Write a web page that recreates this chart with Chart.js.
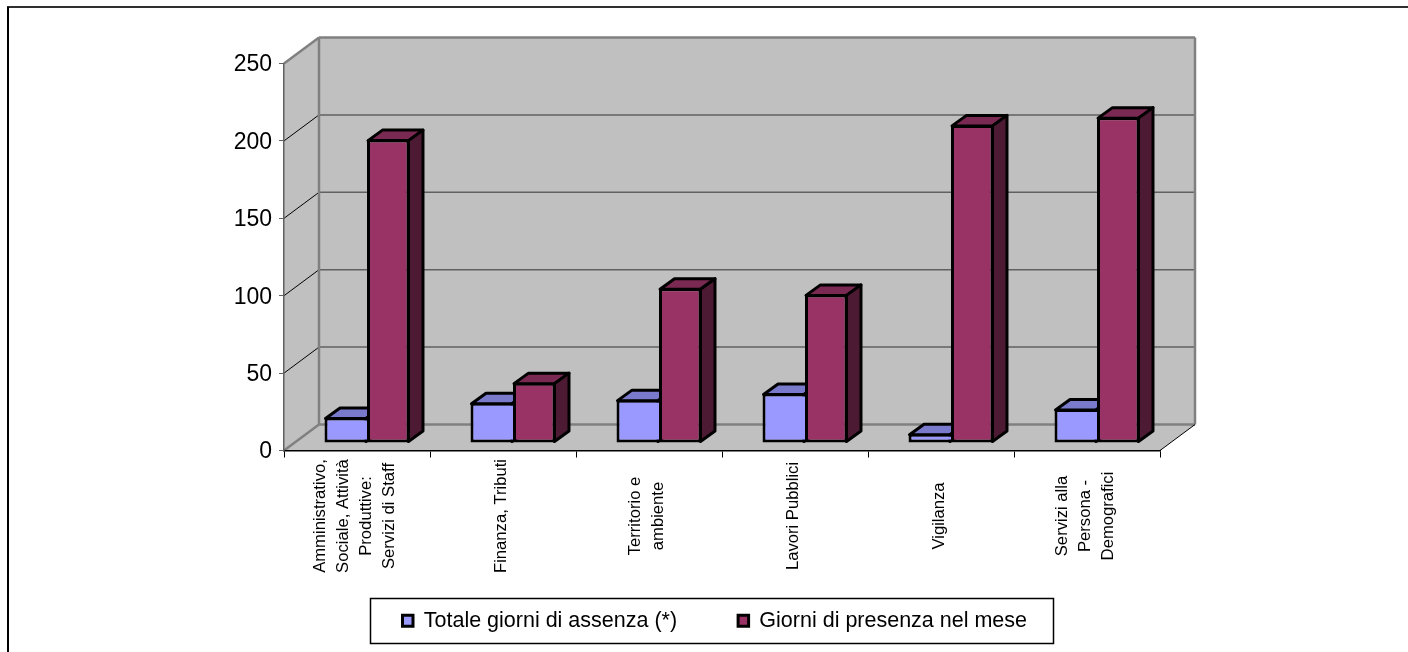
<!DOCTYPE html>
<html><head><meta charset="utf-8">
<script src="https://cdn.jsdelivr.net/npm/chart.js@4"></script>
<style>html,body{margin:0;padding:0;background:#fff}canvas{display:block}</style>
</head><body><canvas id="c" width="1408" height="652"></canvas>
<script>
const categories = [
  ["Amministrativo,","Sociale, Attività","Produttive:","Servizi di Staff"],
  ["Finanza, Tributi"],
  ["Territorio e","ambiente"],
  ["Lavori Pubblici"],
  ["Vigilanza"],
  ["Servizi alla","Persona -","Demografici"]
];
const assenzaValues = [16.5, 26, 28, 32, 6, 22];
const presenzaValues = [196, 39, 100, 96, 205.5, 210.5];
const yTicks = [0, 50, 100, 150, 200, 250];
const FONT = '"Liberation Sans", Arial, sans-serif';

const WALL = {dx: 35, dy: -26};
const BAR = {sx: 10, sy: -7.5, dx: 14.5, dy: -10.5};
const LEG = {left: 370, right: 1053, top: 598, bottom: 643, pad: 61, rowTop: 12, firstMarker: 402.5};
const faces = [
  {top: '#7a7acc', side: '#4d4d80'},
  {top: '#7a2952', side: '#4d1a33'}
];

function poly(ctx, pts, fill, stroke, lw) {
  ctx.beginPath();
  pts.forEach((p, i) => i ? ctx.lineTo(p[0], p[1]) : ctx.moveTo(p[0], p[1]));
  ctx.closePath();
  if (fill) { ctx.fillStyle = fill; ctx.fill(); }
  if (stroke) { ctx.strokeStyle = stroke; ctx.lineWidth = lw; ctx.lineJoin = 'round'; ctx.stroke(); }
}
function seg(ctx, x1, y1, x2, y2, c, lw) {
  ctx.beginPath(); ctx.moveTo(x1, y1); ctx.lineTo(x2, y2);
  ctx.strokeStyle = c; ctx.lineWidth = lw; ctx.stroke();
}
function drawFaces(chart, index) {
  const {ctx} = chart;
  const f = faces[index];
  chart.getDatasetMeta(index).data.forEach(b => {
    const {x, y, base, width} = b.getProps(['x', 'y', 'base', 'width'], true);
    const r = x + width / 2 - 1, l = x - width / 2 + 1, dx = BAR.dx, dy = BAR.dy, t = y + 1, bt = base - 1;
    poly(ctx, [[l, t], [r, t], [r + dx, t + dy], [l + dx, t + dy]], f.top, '#000', 3);
    poly(ctx, [[r, t], [r + dx, t + dy], [r + dx, bt + dy], [r, bt]], f.side, '#000', 3);
  });
}

const plugin3d = {
  id: 'plugin3d',
  afterLayout(chart) {
    const l = chart.legend;
    l.left = LEG.firstMarker - LEG.pad; l.right = chart.width;
    l.top = LEG.top + LEG.rowTop - LEG.pad;
    l.bottom = LEG.bottom;
  },
  beforeDraw(chart) {
    const {ctx, chartArea: a, scales: {y}} = chart;
    const dx = WALL.dx, dy = WALL.dy;
    ctx.save();
    ctx.fillStyle = '#fff'; ctx.fillRect(0, 0, chart.width, chart.height);
    // outer frame: top and left edges only
    seg(ctx, 7, 7, chart.width, 7, '#303030', 2);
    seg(ctx, 8, 7, 8, chart.height, '#000', 2);
    // walls and floor
    const gray = '#808080';
    poly(ctx, [[a.left, a.bottom], [a.left + dx, a.bottom + dy], [a.left + dx, a.top + dy], [a.left, a.top]], '#c0c0c0');
    poly(ctx, [[a.left + dx, a.bottom + dy], [a.right + dx, a.bottom + dy], [a.right + dx, a.top + dy], [a.left + dx, a.top + dy]], '#c0c0c0');
    poly(ctx, [[a.left, a.bottom], [a.right, a.bottom], [a.right + dx, a.bottom + dy], [a.left + dx, a.bottom + dy]], '#c0c0c0');
    // gridlines
    y.ticks.forEach(t => {
      if (t.value === 0 || t.value === 250) return;
      const p = y.getPixelForValue(t.value);
      seg(ctx, a.left, p, a.left + dx, p + dy, '#000', 1);
      seg(ctx, a.left + dx, p + dy, a.right + dx, p + dy, '#606060', 1.5);
    });
    // edges
    ctx.lineCap = 'butt';
    seg(ctx, a.left, a.top, a.left + dx, a.top + dy, gray, 2.5);
    seg(ctx, a.left + dx, a.top + dy, a.right + dx, a.top + dy, gray, 2.5);
    seg(ctx, a.left + dx, a.top + dy, a.left + dx, a.bottom + dy, gray, 2.5);
    seg(ctx, a.right + dx, a.top + dy, a.right + dx, a.bottom + dy, gray, 2.5);
    seg(ctx, a.left + dx, a.bottom + dy, a.right + dx, a.bottom + dy, gray, 2.5);
    seg(ctx, a.left, a.bottom, a.left + dx, a.bottom + dy, gray, 2.5);
    seg(ctx, a.right, a.bottom, a.right + dx, a.bottom + dy, '#000', 1);
    // legend frame
    ctx.strokeStyle = '#000'; ctx.lineWidth = 1.5;
    ctx.strokeRect(LEG.left + .5, LEG.top + .5, LEG.right - LEG.left, LEG.bottom - LEG.top);
    ctx.restore();
  },
  beforeDatasetsDraw(chart) {
    chart.ctx.save();
    chart.ctx.translate(BAR.sx, BAR.sy);
  },
  beforeDatasetDraw(chart, args) {
    // Chart.js paints the last dataset first; the presence bars must sit in front
    if (args.index === 1) return false;
    drawFaces(chart, 0);
  },
  afterDatasetDraw(chart, args) {
    if (args.index === 0) {
      drawFaces(chart, 1);
      chart.getDatasetMeta(1).controller.draw();
    }
  },
  afterDatasetsDraw(chart) {
    chart.ctx.restore();
  },
  afterDraw(chart) {
    // centred multi-line rotated category labels, placed by the x axis
    const {ctx, scales: {x}} = chart;
    ctx.save();
    ctx.fillStyle = '#000';
    ctx.font = '16px ' + FONT;
    ctx.textAlign = 'center';
    ctx.textBaseline = 'middle';
    x.ticks.forEach((t, i) => {
      const lines = [].concat(t.label);
      const c = x.getPixelForTick(i) - 1.5;
      lines.forEach((s, j) => {
        ctx.save();
        ctx.translate(c + (j - (lines.length - 1) / 2) * 23, 516);
        ctx.rotate(-Math.PI / 2);
        ctx.scale(1.04, 1);
        ctx.fillText(s, 0, 0);
        ctx.restore();
      });
    });
    ctx.restore();
  }
};

new Chart(document.getElementById('c'), {
  type: 'bar',
  data: {
    labels: categories,
    datasets: [
      {label: 'Totale giorni di assenza (*)', data: assenzaValues, backgroundColor: '#9999ff', borderColor: '#000', borderWidth: {top: 3, left: 3, bottom: 3, right: 0}, borderSkipped: false, clip: false},
      {label: 'Giorni di presenza nel mese', data: presenzaValues, backgroundColor: '#993366', borderColor: '#000', borderWidth: 3, borderSkipped: false, clip: false}
    ]
  },
  options: {
    responsive: false,
    animation: false,
    devicePixelRatio: 1,
    layout: {padding: {left: 0, right: 248, top: 63.5, bottom: 109}},
    plugins: {
      tooltip: {enabled: false},
      legend: {
        position: 'bottom',
        align: 'start',
        labels: {
          color: '#000', font: {family: FONT, size: 21.5},
          boxWidth: 10.5, boxHeight: 11, padding: LEG.pad,
          generateLabels(chart) {
            return chart.data.datasets.map((d, i) => ({
              text: d.label, fillStyle: d.backgroundColor, strokeStyle: '#000',
              lineWidth: 3, datasetIndex: i, fontColor: '#000'
            }));
          }
        }
      }
    },
    datasets: {bar: {categoryPercentage: 0.582, barPercentage: 1}},
    scales: {
      x: {
        offset: true,
        grid: {display: true, drawOnChartArea: false, drawTicks: true, tickLength: 7, color: '#000', lineWidth: 1, offset: true},
        border: {color: '#000', width: 1.5},
        ticks: {display: false},
        afterFit(s) { s.height = 0; }
      },
      y: {
        min: 0, max: 250,
        afterBuildTicks(s) { s.ticks = yTicks.map(v => ({value: v})); },
        afterFit(s) { s.width = 284; },
        grid: {display: true, drawOnChartArea: false, tickLength: 5, color: '#606060', lineWidth: 1},
        border: {color: '#606060', width: 1.5},
        ticks: {color: '#000', font: {family: FONT, size: 23}, padding: 7, labelOffset: 1.5}
      }
    }
  },
  plugins: [plugin3d]
});
</script></body></html>
